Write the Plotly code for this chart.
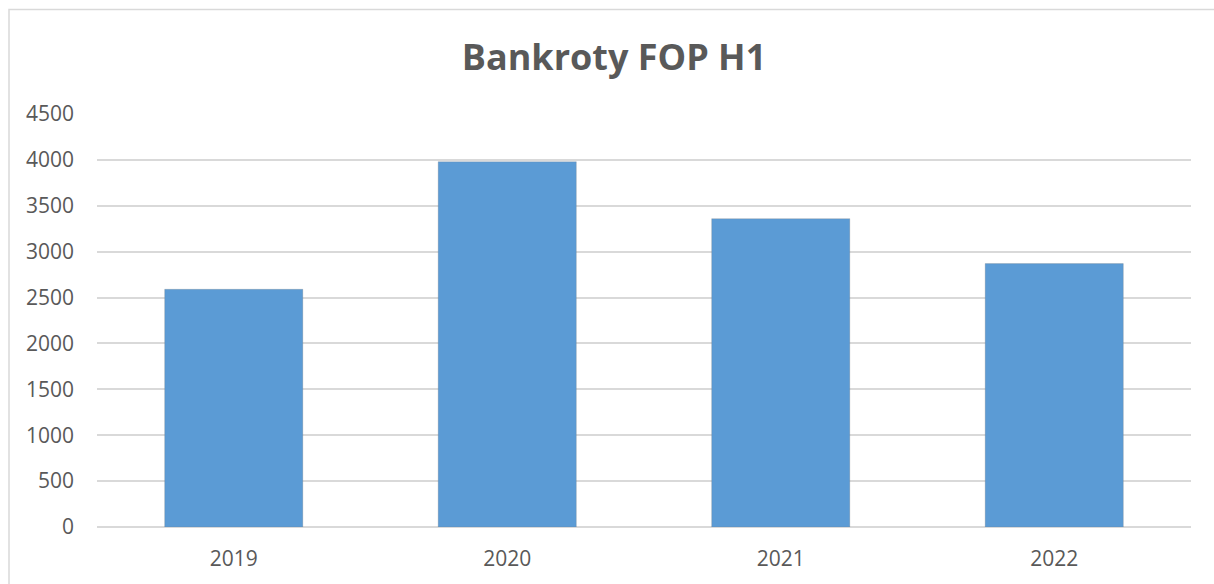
import plotly.graph_objects as go

years = ["2019", "2020", "2021", "2022"]
bankruptcies = [2590, 3980, 3360, 2870]
y_ticks = [0, 500, 1000, 1500, 2000, 2500, 3000, 3500, 4000, 4500]

W, H = 1214, 584
L, R, T, B = 97, 23, 114, 55
pw, ph = W - L - R, H - T - B

fig = go.Figure()
fig.add_trace(go.Bar(
    x=years, y=bankruptcies,
    marker=dict(color="#5b9bd5", line=dict(color="rgba(120,120,120,0.25)", width=1)),
    width=0.505,
    hoverinfo="x+y",
))

fig.update_layout(
    width=W, height=H,
    margin=dict(l=L, r=R, t=T, b=B),
    paper_bgcolor="white", plot_bgcolor="white",
    showlegend=False,
    title=dict(
        text="<b>Bankroty FOP H1</b>",
        x=(614) / W, xref="container", xanchor="center",
        y=1 - 57 / H, yref="container", yanchor="middle",
        font=dict(family="Open Sans", size=36, color="#595959"),
    ),
    font=dict(family="Open Sans", color="#595959"),
    xaxis=dict(
        showgrid=False, showline=False, zeroline=False,
        tickfont=dict(size=21, color="#595959"),
        ticks="", ticklabelstandoff=17,
    ),
    yaxis=dict(
        range=[0, 4500], tickvals=y_ticks,
        showgrid=True, gridcolor="#d9d9d9", gridwidth=1.5,
        zeroline=True, zerolinecolor="#d9d9d9", zerolinewidth=1.5,
        showline=False, ticks="",
        tickfont=dict(size=21, color="#595959"),
        ticklabelstandoff=22,
    ),
    shapes=[dict(
        type="rect", xref="paper", yref="paper",
        x0=(9 - L) / pw, x1=(W + 3 - L) / pw,
        y0=-0.3, y1=(H - B - 9) / ph,
        line=dict(color="#d9d9d9", width=1.5), layer="below",
    )],
)

fig.write_html("out.html")
